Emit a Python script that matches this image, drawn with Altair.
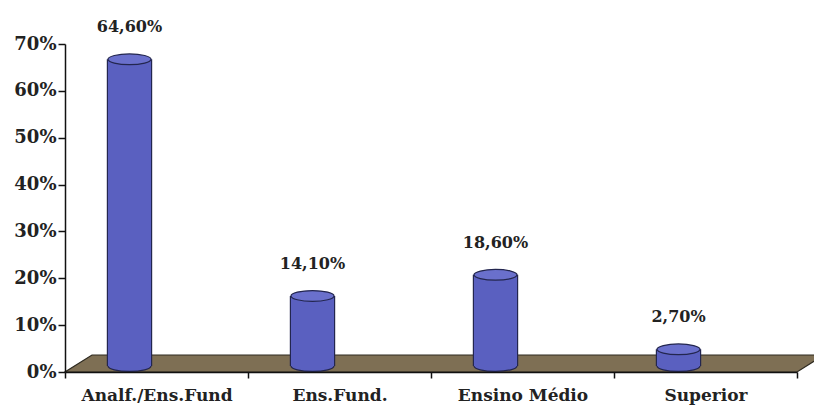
import altair as alt
import pandas as pd

categories = ["Analf./Ens.Fund", "Ens.Fund.", "Ensino Médio", "Superior"]
values = [64.6, 14.1, 18.6, 2.7]
value_labels = ["64,60%", "14,10%", "18,60%", "2,70%"]
y_ticks = [0, 10, 20, 30, 40, 50, 60, 70]

df = pd.DataFrame({"cat": categories, "val": values, "lab": value_labels})

FONT = "DejaVu Serif"
BAR_FILL = "#5a60c0"
BAR_TOP = "#6a70cc"
BAR_STROKE = "#23264f"
FLOOR_FILL = "#7e6f54"
FLOOR_STROKE = "#2e2a20"

ellipse = "M -1 0 A 1 0.25 0 1 1 1 0 A 1 0.25 0 1 1 -1 0 Z"
floor_path = "M -1 0.0224 L 0.9289 0.0224 L 1 -0.0224 L -0.9289 -0.0224 Z"

x_enc = alt.X(
    "cat:N",
    sort=categories,
    scale=alt.Scale(paddingInner=0, paddingOuter=0),
    axis=alt.Axis(
        title=None, labelAngle=0, tickBand="extent", labelFont=FONT,
        labelFontWeight="bold", labelFontSize=17, labelColor="#222222",
        labelPadding=9, tickSize=6, tickColor="#111111", tickWidth=1.5,
        domainColor="#111111", domainWidth=1.5, zindex=1,
    ),
)
y_enc = alt.Y(
    "val:Q",
    stack=None,
    scale=alt.Scale(domain=[0, 70], nice=False),
    axis=alt.Axis(
        title=None, values=y_ticks, labelExpr="datum.value + '%'",
        labelFont=FONT, labelFontWeight="bold", labelFontSize=18,
        labelColor="#222222", labelPadding=2, tickSize=7, tickColor="#111111",
        tickWidth=1.5, domainColor="#111111", domainWidth=1.5, grid=False,
        zindex=1,
    ),
)

base = alt.Chart(df).encode(x=x_enc, y=y_enc)

floor = alt.Chart(pd.DataFrame({"f": [0]})).mark_point(
    shape=floor_path, size=576081, filled=True, fill=FLOOR_FILL,
    stroke=FLOOR_STROKE, strokeWidth=1.2, opacity=1,
).encode(x=alt.value(379.5), y=alt.value(319.5))

outline = base.mark_bar(
    width=45.4, xOffset=-27, yOffset=-10, y2Offset=-6, fill=BAR_STROKE,
).encode(y2=alt.datum(0))

bottom = base.mark_point(
    shape=ellipse, size=1849, filled=True, fill=BAR_FILL, stroke=BAR_STROKE,
    strokeWidth=1.2, opacity=1, xOffset=-27, yOffset=-6,
).encode(y=alt.datum(0))

bars = base.mark_bar(
    width=43, xOffset=-27, yOffset=-10, y2Offset=-6, fill=BAR_FILL,
).encode(y2=alt.datum(0))

tops = base.mark_point(
    shape=ellipse, size=1849, filled=True, fill=BAR_TOP, stroke=BAR_STROKE,
    strokeWidth=1.2, opacity=1, xOffset=-27, yOffset=-10,
)

text = base.mark_text(
    font=FONT, fontWeight="bold", fontSize=16, color="#222222",
    xOffset=-27, yOffset=-42, baseline="middle",
).encode(text="lab:N")

chart = alt.layer(floor, outline, bottom, bars, tops, text).properties(
    width=732, height=328,
    autosize=alt.AutoSizeParams(type="none"),
    padding={"left": 65, "top": 44, "right": 17, "bottom": 35},
    background="white",
).configure_view(stroke=None)

chart.save("out.html", embed_options={"renderer": "svg", "actions": False})
